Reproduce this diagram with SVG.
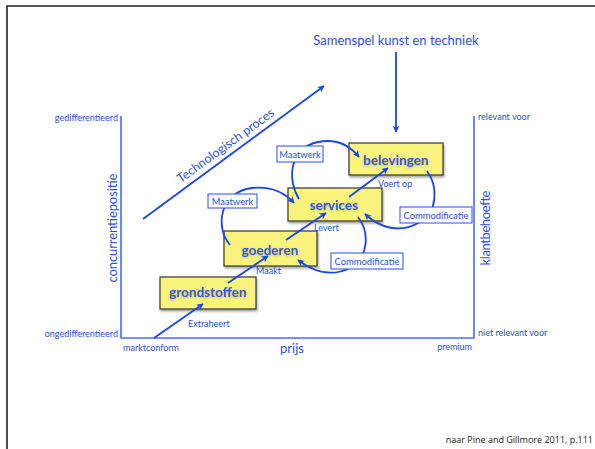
<svg xmlns="http://www.w3.org/2000/svg" width="595" height="449" viewBox="0 0 595 449">
<defs>
<marker id="ah" viewBox="0 0 10 10" refX="9" refY="5" markerWidth="7" markerHeight="7" orient="auto" markerUnits="userSpaceOnUse">
<path d="M0,0 L10,5 L0,10 L3,5 Z" fill="#1a44f0"/>
</marker>
<filter id="sh" x="-20%" y="-20%" width="140%" height="160%">
<feGaussianBlur in="SourceAlpha" stdDeviation="1.2"/>
<feOffset dx="1" dy="1.5" result="b"/>
<feFlood flood-color="#000" flood-opacity="0.35"/>
<feComposite in2="b" operator="in"/>
<feMerge><feMergeNode/><feMergeNode in="SourceGraphic"/></feMerge>
</filter>
<filter id="gl" x="-20%" y="-40%" width="140%" height="180%">
<feGaussianBlur in="SourceAlpha" stdDeviation="1.3"/>
<feOffset dx="0" dy="1" result="b"/>
<feFlood flood-color="#7a7a40" flood-opacity="0.5"/>
<feComposite in2="b" operator="in"/>
<feMerge><feMergeNode/><feMergeNode in="SourceGraphic"/></feMerge>
</filter>
</defs>
<style>
.t{font-family:Lato,"Open Sans","Liberation Sans",sans-serif;fill:#2a4fe8}
.ax{stroke:#4a6cf2;stroke-width:1.6;fill:none}
.al{font-size:9px}
.box rect{fill:#faf47e;stroke:#333;stroke-width:1.2}
.box text{font-family:Lato,"Open Sans","Liberation Sans",sans-serif;font-size:13.5px;font-weight:bold;text-anchor:middle;fill:#3356e0}
.lab rect{fill:#fff;stroke:#2a4fe8;stroke-width:1}
.lab text{font-size:9.4px;text-anchor:middle}
.c{stroke:#1a44f0;stroke-width:1.8;fill:none}
</style>
<rect width="595" height="449" fill="#fff"/>
<path d="M7,449 V6 H595" fill="none" stroke="#222" stroke-width="1.6"/>

<g id="axes">
<path class="ax" d="M121,116 V338 H474 V116"/>
<text class="t al" x="118" y="121" text-anchor="end">gedifferentieerd</text>
<text class="t al" x="118" y="337" text-anchor="end">ongedifferentieerd</text>
<text class="t al" x="123" y="351">marktconform</text>
<text class="t" x="292" y="353" font-size="13" text-anchor="middle">prijs</text>
<text class="t al" x="472" y="350" text-anchor="end">premium</text>
<text class="t al" x="478" y="120">relevant voor</text>
<text class="t al" x="478" y="336">niet relevant voor</text>
<text class="t" transform="translate(117,228) rotate(-90)" font-size="13" text-anchor="middle" textLength="109">concurrentiepositie</text>
<text class="t" transform="translate(490,228) rotate(-90)" font-size="13" text-anchor="middle" textLength="75">klantbehoefte</text>
</g>

<text class="t" transform="translate(228,149) rotate(-36)" font-size="12.5" text-anchor="middle">Technologisch proces</text>
<text class="t" x="396" y="45" font-size="13" text-anchor="middle">Samenspel kunst en techniek</text>

<g id="grondstoffen" class="box"><rect x="160" y="277" width="96" height="32" filter="url(#sh)"/><text x="208" y="297" filter="url(#gl)">grondstoffen</text></g>
<g id="goederen" class="box"><rect x="224" y="231" width="93" height="35" filter="url(#sh)"/><text x="270" y="255" filter="url(#gl)">goederen</text></g>
<g id="services" class="box"><rect x="288" y="188" width="94" height="33" filter="url(#sh)"/><text x="334" y="210" filter="url(#gl)">services</text></g>
<g id="belevingen" class="box"><rect x="349" y="143" width="94" height="32" filter="url(#sh)"/><text x="396" y="165" filter="url(#gl)">belevingen</text></g>

<g id="connectors">
<line class="c" x1="143" y1="219" x2="324" y2="86" marker-end="url(#ah)"/>
<line class="c" x1="396" y1="52" x2="396" y2="132" marker-end="url(#ah)"/>
<line class="c" x1="154" y1="338" x2="203" y2="304" marker-end="url(#ah)"/>
<line class="c" x1="228" y1="283" x2="268" y2="256" marker-end="url(#ah)"/>
<line class="c" x1="286" y1="240" x2="326" y2="213" marker-end="url(#ah)"/>
<line class="c" x1="349" y1="197" x2="388" y2="168" marker-end="url(#ah)"/>
<path class="c" d="M230,245 C215,228 219,192 252,188 C272,186 286,194 294,203" marker-end="url(#ah)"/>
<path class="c" d="M299,199 C287,180 289,148 318,142 C338,138 351,147 359,157" marker-end="url(#ah)"/>
<path class="c" d="M427,171 C438,186 438,212 420,222 C400,234 380,228 365,214" marker-end="url(#ah)"/>
<path class="c" d="M358,217 C369,231 370,256 350,268 C330,278 311,270 298,260" marker-end="url(#ah)"/>
</g>

<g id="maatwerk1" class="lab"><rect x="208" y="194" width="49" height="14"/><text class="t" x="232.5" y="204.5">Maatwerk</text></g>
<g id="maatwerk2" class="lab"><rect x="277" y="146" width="46" height="16"/><text class="t" x="300" y="157.5">Maatwerk</text></g>
<g id="commodificatie1" class="lab"><rect x="400" y="207" width="72" height="16"/><text class="t" x="436" y="218.5">Commodificatie</text></g>
<g id="commodificatie2" class="lab"><rect x="331" y="253" width="72" height="16"/><text class="t" x="367" y="264.5">Commodificatie</text></g>

<g id="labels">
<text class="t al" x="188" y="327">Extraheert</text>
<text class="t al" x="256" y="274">Maakt</text>
<text class="t al" x="314" y="231">Levert</text>
<text class="t al" x="378" y="187">Voert op</text>
</g>

<text x="593" y="443" text-anchor="end" font-family="'Open Sans','Liberation Sans',sans-serif" font-size="9" fill="#222">naar Pine and Gillmore 2011, p.111</text>
</svg>
